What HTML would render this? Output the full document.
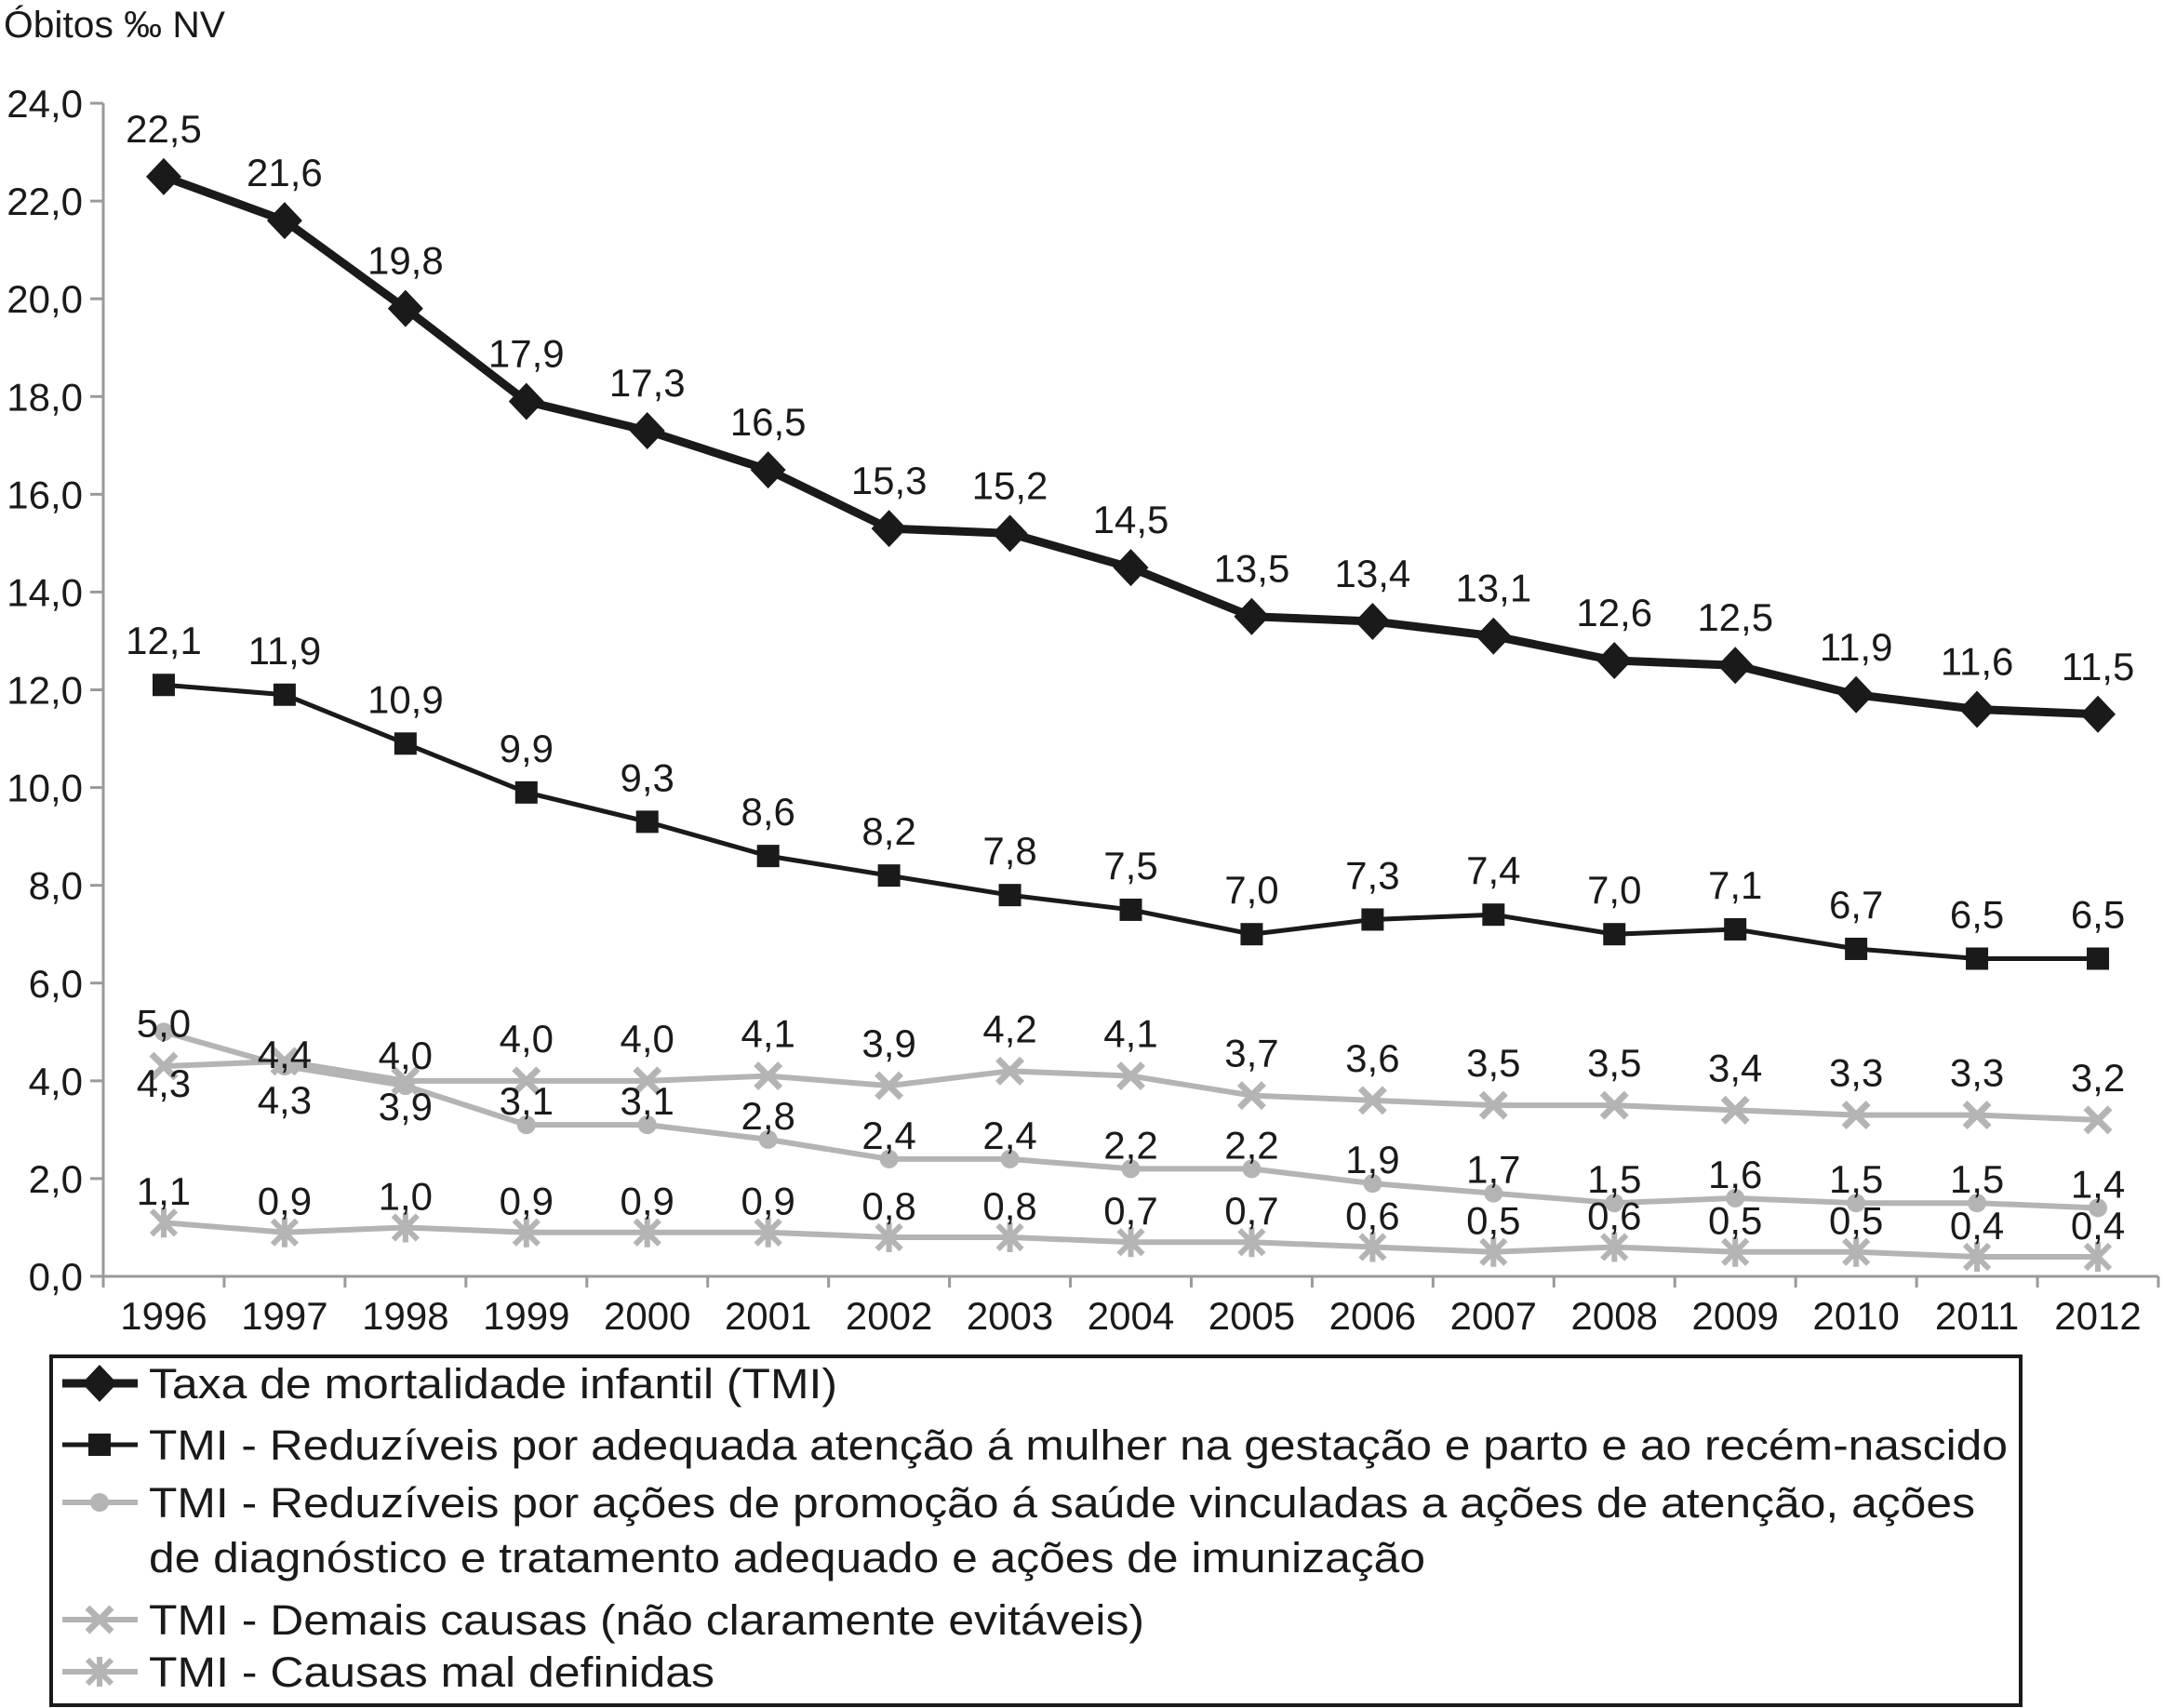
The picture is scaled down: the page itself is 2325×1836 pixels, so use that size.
<!DOCTYPE html>
<html><head><meta charset="utf-8"><style>
html,body{margin:0;padding:0;background:#fff;}
svg{display:block;font-family:"Liberation Sans",Arial,sans-serif;}
</style></head><body>
<svg id="chart" width="2325" height="1836" viewBox="0 0 2325 1836" xmlns="http://www.w3.org/2000/svg">
<text x="4" y="40" font-size="40" fill="#1a1a1a" textLength="238" lengthAdjust="spacingAndGlyphs">Óbitos ‰ NV</text>
<g id="axes"></g>
<g id="series"></g>
<g id="labels"></g>
<g id="legend">
<rect x="55" y="1458" width="2117" height="375" fill="none" stroke="#1a1a1a" stroke-width="4"/>
</g>
</svg>
<script>
const years = ["1996","1997","1998","1999","2000","2001","2002","2003","2004","2005","2006","2007","2008","2009","2010","2011","2012"];
const tmi = [22.5,21.6,19.8,17.9,17.3,16.5,15.3,15.2,14.5,13.5,13.4,13.1,12.6,12.5,11.9,11.6,11.5];
const gestacao = [12.1,11.9,10.9,9.9,9.3,8.6,8.2,7.8,7.5,7.0,7.3,7.4,7.0,7.1,6.7,6.5,6.5];
const promocao = [5.0,4.3,3.9,3.1,3.1,2.8,2.4,2.4,2.2,2.2,1.9,1.7,1.5,1.6,1.5,1.5,1.4];
const demais = [4.3,4.4,4.0,4.0,4.0,4.1,3.9,4.2,4.1,3.7,3.6,3.5,3.5,3.4,3.3,3.3,3.2];
const malDefinidas = [1.1,0.9,1.0,0.9,0.9,0.9,0.8,0.8,0.7,0.7,0.6,0.5,0.6,0.5,0.5,0.4,0.4];
const yTicks = [0,2,4,6,8,10,12,14,16,18,20,22,24];

const NS="http://www.w3.org/2000/svg";
const L=111,R=2320,T=111,B=1372,YMAX=24;
const FS=42;
const step=(R-L)/years.length;
function xs(i){return L+step*(i+0.5);}
function ys(v){return B-(v/YMAX)*(B-T);}
function mk(tag,attrs,parent){const e=document.createElementNS(NS,tag);for(const k in attrs)e.setAttribute(k,attrs[k]);parent.appendChild(e);return e;}
const axes=document.getElementById('axes'),series=document.getElementById('series'),labels=document.getElementById('labels');
const fmt=v=>v.toFixed(1).replace('.',',');

let a=mk('line',{x1:L,y1:T,x2:L,y2:B,stroke:'#9a9a9a','stroke-width':3},axes);


a=mk('line',{x1:L,y1:B,x2:R,y2:B,stroke:'#9a9a9a','stroke-width':3},axes);


yTicks.forEach(t=>{
  const y=ys(t);
  let e=mk('line',{x1:L-14,y1:y,x2:L,y2:y,stroke:'#9a9a9a','stroke-width':3},axes);
  
  
  e=mk('text',{x:L-22,y:y+15,'font-size':FS,'text-anchor':'end',fill:'#1a1a1a'},axes);
  e.textContent=fmt(t);
  
  
});
for(let i=0;i<=years.length;i++){
  let e=mk('line',{x1:L+step*i,y1:B,x2:L+step*i,y2:B+12,stroke:'#9a9a9a','stroke-width':3},axes);
  
  
}
years.forEach((yr,i)=>{
  const e=mk('text',{x:xs(i),y:B+57,'font-size':FS,'text-anchor':'middle',fill:'#1a1a1a'},axes);
  e.textContent=yr;
  
  
});

function marker(kind,x,y,g,color){
  if(kind==='diamond') mk('polygon',{points:`${x},${y-20} ${x+19},${y} ${x},${y+20} ${x-19},${y}`,fill:color},g);
  else if(kind==='square') mk('rect',{x:x-12,y:y-12,width:24,height:24,fill:color},g);
  else if(kind==='circle') mk('circle',{cx:x,cy:y,r:10,fill:color},g);
  else if(kind==='x'){mk('path',{d:`M${x-13},${y-13}L${x+13},${y+13}M${x-13},${y+13}L${x+13},${y-13}`,stroke:color,'stroke-width':7},g);}
  else if(kind==='star'){mk('path',{d:`M${x-13},${y-13}L${x+13},${y+13}M${x-13},${y+13}L${x+13},${y-13}M${x},${y-16}L${x},${y+16}`,stroke:color,'stroke-width':6},g);}
}
const defs=[
 {name:'series-tmi',data:tmi,color:'#1a1a1a',w:9,kind:'diamond',off:()=>-52},
 {name:'series-gestacao',data:gestacao,color:'#1a1a1a',w:5,kind:'square',off:()=>-48},
 {name:'series-promocao',data:promocao,color:'#b4b4b4',w:6,kind:'circle',off:i=>[-10,36,22][i]!==undefined?[-10,36,22][i]:-26},
 {name:'series-demais',data:demais,color:'#b4b4b4',w:6,kind:'x',off:i=>[18,-8,-28][i]!==undefined?[18,-8,-28][i]:-46},
 {name:'series-mal-definidas',data:malDefinidas,color:'#b4b4b4',w:6,kind:'star',off:()=>-34}
];
[defs[4],defs[3],defs[2],defs[1],defs[0]].forEach(s=>{
  const g=mk('g',{},series);
  
  
  const pts=s.data.map((v,i)=>`${xs(i)},${ys(v)}`).join(' ');
  mk('polyline',{points:pts,fill:'none',stroke:s.color,'stroke-width':s.w,'stroke-linejoin':'round'},g);
  s.data.forEach((v,i)=>marker(s.kind,xs(i),ys(v),g,s.color));
});
defs.forEach(s=>{
  s.data.forEach((v,i)=>{
    const e=mk('text',{x:xs(i),y:ys(v)+s.off(i)+15,'font-size':FS,'text-anchor':'middle',fill:'#1a1a1a'},labels);
    e.textContent=fmt(v);
    
    
  });
});

const lg=document.getElementById('legend');
const legItems=[
 {kind:'diamond',color:'#1a1a1a',w:9,y:1487,lines:[['Taxa de mortalidade infantil (TMI)',740]]},
 {kind:'square',color:'#1a1a1a',w:5,y:1553,lines:[['TMI - Reduzíveis por adequada atenção á mulher na gestação e parto e ao recém-nascido',1998]]},
 {kind:'circle',color:'#b4b4b4',w:6,y:1615,lines:[['TMI - Reduzíveis por ações de promoção á saúde vinculadas a ações de atenção, ações',1963],['de diagnóstico e tratamento adequado e ações de imunização',1372]]},
 {kind:'x',color:'#b4b4b4',w:6,y:1741,lines:[['TMI - Demais causas (não claramente evitáveis)',1070]]},
 {kind:'star',color:'#b4b4b4',w:6,y:1797,lines:[['TMI - Causas mal definidas',608]]}
];
legItems.forEach(it=>{
  const g=mk('g',{},lg);
  
  
  mk('line',{x1:67,y1:it.y,x2:148,y2:it.y,stroke:it.color,'stroke-width':it.w},g);
  marker(it.kind,107,it.y,g,it.color);
  it.lines.forEach((ln,j)=>{
    const t=mk('text',{x:160,y:it.y+16+j*59,'font-size':45,fill:'#1a1a1a',textLength:ln[1],lengthAdjust:'spacingAndGlyphs'},g);
    t.textContent=ln[0];
  });
});
</script>
</body></html>
